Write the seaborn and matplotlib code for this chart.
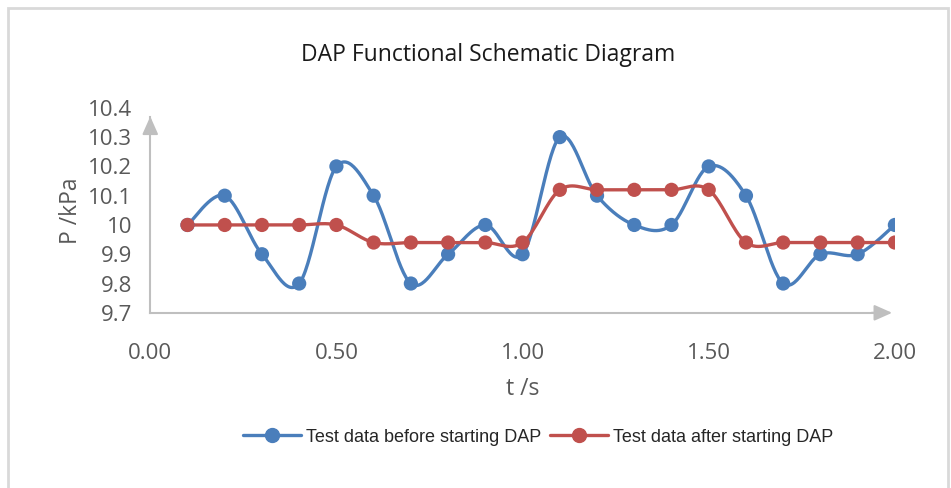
import numpy as np
import pandas as pd
import seaborn as sns
import matplotlib
matplotlib.use("Agg")
import matplotlib.pyplot as plt
from matplotlib.lines import Line2D
from matplotlib.patches import Rectangle

# ---- data ----
t_values = [0.1, 0.2, 0.3, 0.4, 0.5, 0.6, 0.7, 0.8, 0.9, 1.0,
            1.1, 1.2, 1.3, 1.4, 1.5, 1.6, 1.7, 1.8, 1.9, 2.0]
before_dap = [10.0, 10.1, 9.9, 9.8, 10.2, 10.1, 9.8, 9.9, 10.0, 9.9,
              10.3, 10.1, 10.0, 10.0, 10.2, 10.1, 9.8, 9.9, 9.9, 10.0]
after_dap = [10.0, 10.0, 10.0, 10.0, 10.0, 9.94, 9.94, 9.94, 9.94, 9.94,
             10.12, 10.12, 10.12, 10.12, 10.12, 9.94, 9.94, 9.94, 9.94, 9.94]
series_names = ["Test data before starting DAP", "Test data after starting DAP"]
x_ticks = [0.0, 0.5, 1.0, 1.5, 2.0]
x_tick_labels = ["0.00", "0.50", "1.00", "1.50", "2.00"]
y_ticks = [9.7, 9.8, 9.9, 10.0, 10.1, 10.2, 10.3, 10.4]
y_tick_labels = ["9.7", "9.8", "9.9", "10", "10.1", "10.2", "10.3", "10.4"]
title = "DAP Functional Schematic Diagram"
x_label = "t /s"
y_label = "P /kPa"

BLUE = "#4a7ebb"
RED = "#c0504d"
GREY_AX = "#bfbfbf"
TXT = "#595959"


def excel_smooth(x, y, n=30):
    """Bezier smoothing like Excel's smoothed line (Catmull-Rom style)."""
    x = np.asarray(x, float)
    y = np.asarray(y, float)
    px, py = [], []
    m = len(x)
    for i in range(m - 1):
        x0, y0 = (x[i - 1], y[i - 1]) if i > 0 else (x[i], y[i])
        x1, y1 = x[i], y[i]
        x2, y2 = x[i + 1], y[i + 1]
        x3, y3 = (x[i + 2], y[i + 2]) if i + 2 < m else (x2, y2)
        c1x, c1y = x1 + (x2 - x0) / 6, y1 + (y2 - y0) / 6
        c2x, c2y = x2 - (x3 - x1) / 6, y2 - (y3 - y1) / 6
        s = np.linspace(0, 1, n, endpoint=(i == m - 2))
        b0 = (1 - s) ** 3
        b1 = 3 * (1 - s) ** 2 * s
        b2 = 3 * (1 - s) * s ** 2
        b3 = s ** 3
        px.append(b0 * x1 + b1 * c1x + b2 * c2x + b3 * x2)
        py.append(b0 * y1 + b1 * c1y + b2 * c2y + b3 * y2)
    return np.concatenate(px), np.concatenate(py)


sns.set_theme(style="white")
plt.rcParams["font.family"] = ["Open Sans", "DejaVu Sans"]

fig = plt.figure(figsize=(9.51, 4.88), dpi=100)
ax = fig.add_axes([0.158, 0.359, 0.783, 0.42])

for yvals, color in [(before_dap, BLUE), (after_dap, RED)]:
    sx, sy = excel_smooth(t_values, yvals)
    smooth_df = pd.DataFrame({"t": sx, "p": sy})
    sns.lineplot(data=smooth_df, x="t", y="p", ax=ax, color=color,
                 linewidth=2.4, sort=False, estimator=None, legend=False)
    pts = pd.DataFrame({"t": t_values, "p": yvals})
    sns.scatterplot(data=pts, x="t", y="p", ax=ax, color=color, s=105,
                    edgecolor="none", legend=False, zorder=3)

ax.set_xlim(0, 2.0)
ax.set_ylim(9.7, 10.4)
ax.set_xticks(x_ticks)
ax.set_xticklabels(x_tick_labels)
ax.set_yticks(y_ticks)
ax.set_yticklabels(y_tick_labels)
ax.tick_params(axis="both", length=0, labelsize=16, colors=TXT)
ax.tick_params(axis="x", pad=22)
ax.tick_params(axis="y", pad=13)
for lab in ax.get_yticklabels():
    lab.set_ha("right")

for sp in ["top", "right"]:
    ax.spines[sp].set_visible(False)
ax.spines["left"].set_color(GREY_AX)
ax.spines["bottom"].set_color(GREY_AX)
ax.spines["left"].set_linewidth(1.5)
ax.spines["bottom"].set_linewidth(1.5)
ax.spines["left"].set_bounds(9.7, 10.37)
ax.spines["bottom"].set_bounds(0, 1.96)
ax.annotate("", xy=(2.0, 9.7), xytext=(1.93, 9.7),
            arrowprops=dict(arrowstyle="-|>,head_length=0.9,head_width=0.4",
                            color=GREY_AX, lw=1.5), annotation_clip=False)
ax.annotate("", xy=(0, 10.38), xytext=(0, 10.33),
            arrowprops=dict(arrowstyle="-|>,head_length=0.9,head_width=0.4",
                            color=GREY_AX, lw=1.5), annotation_clip=False)

ax.set_xlabel(x_label, fontsize=16.5, color=TXT, labelpad=9)
ax.set_ylabel(y_label, fontsize=16.5, color=TXT, labelpad=4)

fig.text(0.513, 0.887, title, ha="center", va="center", fontsize=16.5,
         color="#1a1a1a", family=["Open Sans", "DejaVu Sans"])

handles = [Line2D([0], [0], color=c, lw=2.4, marker="o", markersize=10)
           for c in (BLUE, RED)]
fig.legend(handles, series_names, loc="center", bbox_to_anchor=(0.566, 0.104),
           ncol=2, frameon=False, handlelength=3.2, handletextpad=0.3,
           columnspacing=0.5, prop={"family": "Liberation Sans", "size": 13})

fig.patches.append(Rectangle((8 / 951, -0.1), 940 / 951, 1 - 8 / 488 + 0.1,
                             transform=fig.transFigure, fill=False,
                             edgecolor="#d9d9d9", linewidth=2))

fig.savefig("out.png", dpi=100, facecolor="white")
